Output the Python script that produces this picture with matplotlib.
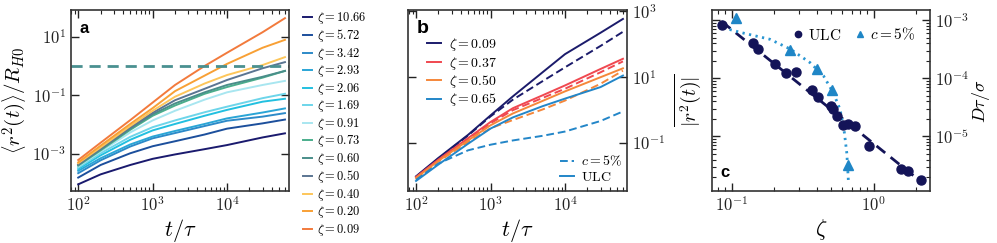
import numpy as np
import matplotlib
matplotlib.use('Agg')
from matplotlib import pyplot as plt
from matplotlib import ticker
from matplotlib.lines import Line2D

plt.rcParams['mathtext.fontset'] = 'cm'
plt.rcParams['font.family'] = ['DejaVu Serif']

# ---- panel a : MSD for all zeta (log10 values)
t_a = [100, 200, 500, 1000, 2000, 5000, 10000, 30000, 60000]
zeta_a = ['10.66', '5.72', '3.42', '2.93', '2.06', '1.69', '0.91',
          '0.73', '0.60', '0.50', '0.40', '0.20', '0.09']
log_msd_a = [
    [-4.04, -3.70, -3.38, -3.17, -3.02, -2.84, -2.70, -2.44, -2.30],
    [-3.81, -3.38, -2.98, -2.74, -2.57, -2.34, -2.14, -1.96, -1.83],
    [-3.66, -3.22, -2.75, -2.47, -2.29, -2.05, -1.87, -1.73, -1.61],
    [-3.58, -3.15, -2.68, -2.41, -2.22, -1.98, -1.79, -1.59, -1.45],
    [-3.52, -3.05, -2.52, -2.20, -1.98, -1.70, -1.50, -1.22, -1.12],
    [-3.47, -2.98, -2.42, -2.09, -1.86, -1.58, -1.39, -1.10, -0.95],
    [-3.43, -2.92, -2.27, -1.86, -1.53, -1.15, -0.90, -0.65, -0.51],
    [-3.40, -2.88, -2.18, -1.70, -1.35, -0.95, -0.72, -0.40, -0.17],
    [-3.38, -2.85, -2.14, -1.65, -1.28, -0.90, -0.65, -0.37, -0.17],
    [-3.36, -2.82, -2.10, -1.60, -1.17, -0.78, -0.48, -0.08, 0.13],
    [-3.32, -2.78, -2.05, -1.53, -1.05, -0.60, -0.31, 0.03, 0.30],
    [-3.29, -2.72, -1.98, -1.44, -0.86, -0.33, 0.07, 0.62, 0.89],
    [-3.21, -2.62, -1.85, -1.25, -0.65, 0.00, 0.45, 1.15, 1.63],
]
colors_a = ['#1a1a6e', '#1c4f9c', '#2d8ac8', '#2aa5d6', '#22c0e0', '#6dd5ea',
            '#a8e6f0', '#4aae8c', '#4a8e8a', '#5b7592', '#fdc65a', '#f8a035',
            '#f27a3c']
threshold_a = 1.0

# ---- panel b : ULC (solid) vs c=5% (dashed)
t_b = [100, 200, 500, 1000, 2000, 5000, 10000, 30000, 60000]
zeta_b = ['0.09', '0.37', '0.50', '0.65']
log_ulc_b = [
    [-2.01, -1.45, -0.75, -0.16, 0.42, 1.15, 1.70, 2.35, 2.77],
    [-2.03, -1.50, -0.85, -0.36, 0.06, 0.45, 0.75, 1.25, 1.56],
    [-2.06, -1.54, -0.92, -0.46, -0.10, 0.28, 0.57, 1.00, 1.27],
    [-2.15, -1.65, -1.02, -0.56, -0.22, 0.12, 0.35, 0.70, 1.05],
]
log_c5_b = [
    [-2.03, -1.47, -0.77, -0.19, 0.32, 0.88, 1.30, 1.95, 2.38],
    [-2.05, -1.52, -0.88, -0.40, 0.00, 0.37, 0.65, 1.15, 1.48],
    [-2.08, -1.56, -0.97, -0.55, -0.30, 0.02, 0.29, 0.80, 1.20],
    [-2.12, -1.62, -1.22, -1.05, -0.92, -0.78, -0.65, -0.33, -0.04],
]
colors_b = ['#1b1b6b', '#f04850', '#f5873a', '#2386c8']

# ---- panel c : diffusion coefficient vs zeta
zeta_ulc = [0.085, 0.141, 0.152, 0.202, 0.242, 0.283, 0.367, 0.409, 0.502,
            0.521, 0.551, 0.607, 0.665, 0.742, 0.935, 1.57, 1.75, 2.16]
D_ulc = [8.4e-4, 4.0e-4, 3.2e-4, 1.73e-4, 1.24e-4, 1.31e-4, 6.3e-5, 4.8e-5,
         3.4e-5, 2.95e-5, 2.28e-5, 1.6e-5, 1.65e-5, 1.49e-5, 6.9e-6, 2.75e-6,
         2.5e-6, 1.8e-6]
zeta_c5 = [0.107, 0.258, 0.398, 0.508, 0.665]
D_c5 = [1.1e-3, 3.05e-4, 1.47e-4, 6.2e-5, 3.2e-6]
fit_zeta = [0.085, 2.19]
fit_D = [9.5e-4, 1.62e-6]
dot_zeta = [0.087, 0.121, 0.186, 0.258, 0.357, 0.444, 0.521, 0.581, 0.623,
            0.648, 0.665]
dot_D = [7.4e-4, 6.0e-4, 4.7e-4, 3.2e-4, 1.86e-4, 1.1e-4, 5.6e-5, 2.9e-5,
         1.15e-5, 5.1e-6, 1.66e-6]


def pow10(v, pos):
    return r'$10^{%d}$' % int(round(np.log10(v)))


def style(ax):
    ax.set_xscale('log')
    ax.set_yscale('log')
    ax.tick_params(which='both', direction='in', top=True, bottom=True,
                   left=True, right=True, labelsize=12, colors='#222222')
    ax.tick_params(which='major', length=6, width=1)
    ax.tick_params(which='minor', length=3, width=0.8)
    for s in ax.spines.values():
        s.set_linewidth(1.2)
        s.set_color('#333333')
    ax.xaxis.set_major_formatter(ticker.FuncFormatter(pow10))
    ax.yaxis.set_major_formatter(ticker.FuncFormatter(pow10))
    ax.xaxis.set_minor_locator(ticker.LogLocator(subs=np.arange(2, 10)))
    ax.xaxis.set_minor_formatter(ticker.NullFormatter())


fig = plt.figure(figsize=(9.97, 2.43), dpi=100)
W, H = 997.0, 243.0

# panel a
ax = fig.add_axes([71 / W, 52 / H, 218 / W, 181 / H])
style(ax)
for z, vals, c in zip(zeta_a, log_msd_a, colors_a):
    ax.plot(t_a, 10 ** np.array(vals), color=c, lw=1.4, label=r'$\zeta = %s$' % z)
ax.axhline(threshold_a, color='#4a9090', lw=2, ls=(0, (4, 2.5)))
ax.set_xlim(80, 68000)
ax.set_ylim(5.4e-5, 81)
ax.yaxis.set_major_locator(ticker.FixedLocator([1e-3, 1e-1, 1e1]))
ax.yaxis.set_minor_locator(ticker.NullLocator())
ax.set_xlabel(r'$t/\tau$', fontsize=16, labelpad=2)
ax.set_ylabel(r'$\left\langle r^2(t)\right\rangle/R_{H0}$', fontsize=15, labelpad=2)
ax.text(0.04, 0.9, 'a', transform=ax.transAxes, fontsize=12, fontweight='bold',
        family='Liberation Sans', va='center')
ax.legend(loc='upper left', bbox_to_anchor=(1.064, 1.0), borderaxespad=0,
          borderpad=0, frameon=False, fontsize=9, handlelength=0.7,
          handletextpad=0.4, labelspacing=0.12)

# panel b
ax = fig.add_axes([408 / W, 52 / H, 219 / W, 181 / H])
style(ax)
for z, u, d, c in zip(zeta_b, log_ulc_b, log_c5_b, colors_b):
    ax.plot(t_b, 10 ** np.array(u), color=c, lw=1.4, label=r'$\zeta = %s$' % z)
    ax.plot(t_b, 10 ** np.array(d), color=c, lw=1.4, ls=(0, (4, 2)))
ax.set_xlim(78, 68000)
ax.set_ylim(3.5e-3, 1.1e3)
ax.yaxis.set_major_locator(ticker.FixedLocator([1e-1, 1e1, 1e3]))
ax.yaxis.set_minor_locator(ticker.NullLocator())
ax.tick_params(labelleft=False, labelright=True)
ax.yaxis.set_label_position('right')
ax.set_xlabel(r'$t/\tau$', fontsize=16, labelpad=2)
ax.set_ylabel(r'$\overline{|r^2(t)|}$', fontsize=14, labelpad=5)
ax.text(0.04, 0.9, 'b', transform=ax.transAxes, fontsize=14, fontweight='bold',
        family='Liberation Sans', va='center')
leg1 = ax.legend(loc='upper left', bbox_to_anchor=(0.085, 0.855), borderaxespad=0,
                 borderpad=0, frameon=False, fontsize=10, handlelength=1.0,
                 handletextpad=0.6, labelspacing=0.1)
ax.add_artist(leg1)
hb = [Line2D([], [], color=colors_b[3], lw=1.4, ls=(0, (4, 2))),
      Line2D([], [], color=colors_b[3], lw=1.4)]
ax.legend(hb, [r'$c = 5\%$', r'$\mathrm{ULC}$'], loc='lower right',
          bbox_to_anchor=(0.98, 0.04), borderaxespad=0, borderpad=0,
          frameon=False, fontsize=10, handlelength=1.0, handletextpad=0.5,
          labelspacing=0.1)

# panel c
ax = fig.add_axes([712 / W, 52 / H, 218 / W, 181 / H])
style(ax)
ax.plot(fit_zeta, fit_D, color='#141458', lw=2, ls=(0, (4, 2.5)))
ax.plot(dot_zeta, dot_D, color='#2a96d2', lw=2, ls=(0, (0.8, 1.6)))
ax.plot(zeta_ulc, D_ulc, 'o', color='#141458', ms=6.5, label=r'$\mathrm{ULC}$')
ax.plot(zeta_c5, D_c5, '^', color='#1f86c6', ms=6.5, label=r'$c = 5\%$')
ax.set_xlim(0.0726, 2.5)
ax.set_ylim(1.15e-6, 1.5e-3)
ax.yaxis.set_major_locator(ticker.FixedLocator([1e-5, 1e-4, 1e-3]))
ax.yaxis.set_minor_locator(ticker.LogLocator(subs=np.arange(2, 10)))
ax.yaxis.set_minor_formatter(ticker.NullFormatter())
ax.tick_params(labelleft=False, labelright=True)
ax.yaxis.set_label_position('right')
ax.set_xlabel(r'$\zeta$', fontsize=16, labelpad=2)
ax.set_ylabel(r'$D\tau/\sigma$', fontsize=13, labelpad=1)
ax.text(0.04, 0.1, 'c', transform=ax.transAxes, fontsize=12, fontweight='bold',
        family='Liberation Sans', va='center')
ax.legend(loc='upper right', bbox_to_anchor=(0.935, 0.91), borderaxespad=0,
          borderpad=0, frameon=False, fontsize=11, ncol=2, handlelength=0.8,
          handletextpad=0.3, columnspacing=0.8, markerscale=0.7)

fig.savefig('out.png', dpi=100)
